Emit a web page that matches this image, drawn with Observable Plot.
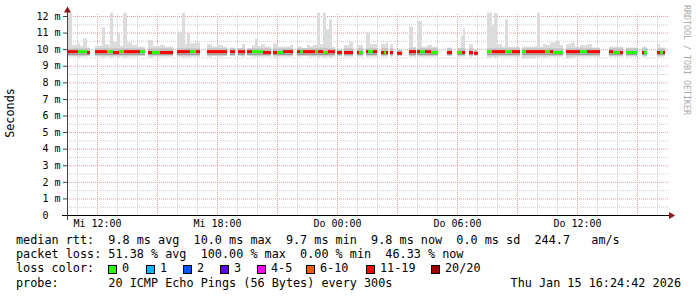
<!DOCTYPE html>
<html><head><meta charset="utf-8">
<script src="https://cdn.jsdelivr.net/npm/d3@7"></script>
<script src="https://cdn.jsdelivr.net/npm/@observablehq/plot@0.6"></script>
<style>
html,body{margin:0;padding:0;background:#fff;}
#wrap{position:relative;width:697px;height:297px;overflow:hidden;font-family:"DejaVu Sans Mono",monospace;background:#fff;}
#chart{position:absolute;left:0;top:0;}
.line{position:absolute;left:16px;font-size:11.8px;line-height:14px;white-space:pre;color:#000;}
.sq{position:absolute;width:7px;height:7px;border:1px solid #000;}
.lab{position:absolute;font-size:11.8px;line-height:14px;white-space:pre;color:#000;}
#ylab{position:absolute;left:11.2px;top:113px;transform:translate(-50%,-50%) rotate(-90deg);font-size:11.8px;line-height:1;white-space:nowrap;color:#000;}
#credit{position:absolute;left:687px;top:60px;transform:translate(-50%,-50%) rotate(90deg);font-size:8.3px;line-height:1;white-space:nowrap;color:#aaaaaa;}
</style></head>
<body><div id="wrap"><div id="chart"></div></div>
<script>
// ---- axis ticks (hours since Wed 00:00) ----
const xTickHours = [12, 18, 24, 30, 36];
const xTickLabels = ["Mi 12:00", "Mi 18:00", "Do 00:00", "Do 06:00", "Do 12:00"];
const yTickValues = [0,1,2,3,4,5,6,7,8,9,10,11,12];
const yTickLabels = ["0","1","2","3","4","5","6","7","8","9","10","11","12"];
const yUnit = "m";

// ---- loss colour legend ----
const lossLabels = ["0","1","2","3","4-5","6-10","11-19","20/20"];
const lossColors = ["#26ff00","#00b8ff","#0059ff","#5e00ff","#ff00ff","#ff5500","#ff0000","#a10000"];

// ---- median rtt runs: [from h, to h, median ms, lost pings of 20] ----
const medianRuns = [
 [10.5,11.05,9.85,15],[11.05,11.5,9.85,0],[11.5,11.65,9.8,15],
 [11.9,12.5,9.85,15],[12.5,12.8,9.85,0],[12.8,13.1,9.8,15],[13.1,13.35,9.85,0],[13.35,14.15,9.85,15],[14.15,14.4,9.85,0],
 [14.55,14.75,9.8,15],[14.75,15.15,9.8,0],[15.15,15.8,9.8,15],
 [16.0,16.65,9.85,15],[16.65,16.95,9.85,0],[16.95,17.15,9.85,15],
 [17.5,18.5,9.85,15],[18.65,18.9,9.85,15],[19.05,19.4,9.85,15],
 [19.5,19.75,9.85,15],[19.75,20.3,9.85,0],[20.3,20.7,9.8,15],
 [20.8,21.0,9.8,15],[21.0,21.3,9.8,0],[21.3,21.8,9.85,15],
 [22.0,22.15,9.85,15],[22.15,22.3,9.85,0],[22.3,22.9,9.85,15],[22.9,23.05,9.85,0],[23.05,23.3,9.85,15],[23.3,23.55,9.8,0],[23.55,23.9,9.85,15],
 [24.0,24.25,9.8,15],[24.35,24.8,9.8,15],
 [25.0,25.1,9.8,15],[25.1,25.3,9.8,0],
 [25.45,25.55,9.85,15],[25.55,25.8,9.85,0],[25.8,26.0,9.85,15],
 [26.2,26.35,9.8,15],[26.35,26.45,9.8,0],[26.45,26.55,9.8,15],
 [26.65,26.8,9.8,15],[27.0,27.25,9.75,15],[27.6,27.95,9.85,15],
 [28.0,28.15,9.85,15],[28.15,28.4,9.85,0],[28.4,28.7,9.85,15],[28.7,29.05,9.8,0],
 [29.5,29.75,9.8,15],[30.0,30.25,9.8,0],[30.25,30.4,9.8,15],
 [30.6,30.8,9.8,15],[30.85,31.05,9.75,15],
 [31.5,31.75,9.85,0],[31.75,32.4,9.85,15],[32.4,32.75,9.85,0],[32.75,33.15,9.85,15],
 [33.25,33.45,9.85,0],[33.45,34.4,9.85,15],[34.4,34.65,9.85,0],[34.65,34.8,9.85,15],[34.8,35.3,9.8,0],
 [35.45,36.15,9.85,15],[36.15,36.5,9.85,0],[36.5,37.15,9.85,15],
 [37.6,37.8,9.85,15],[37.8,38.15,9.8,0],[38.15,38.3,9.8,15],
 [38.45,39.0,9.8,0],[39.25,39.35,9.8,15],[39.35,39.5,9.8,0],
 [40.0,40.15,9.8,15],[40.15,40.3,9.8,0],[40.3,40.4,9.8,15]
];

// ---- smoke (ping spread): [from h, to h, lowest ms, highest ms] ----
const smoke = [
 [10.5,10.75,9.55,12.2],[10.75,11.0,9.55,10.25],[11.0,11.15,9.5,10.35],[11.15,11.3,9.55,10.2],[11.3,11.5,9.55,10.65],[11.5,11.65,9.6,10.1],
 [11.9,12.25,9.55,10.2],[12.25,12.4,9.5,11.3],[12.4,12.6,9.55,10.3],[12.6,12.65,9.55,10.2],[12.65,12.8,9.5,12.2],[12.8,13.0,9.55,10.45],[13.0,13.15,9.5,11.0],[13.15,13.3,9.55,10.2],[13.3,13.5,9.5,12.2],[13.5,13.75,9.55,10.4],[13.75,14.0,9.55,10.25],[14.0,14.4,9.6,10.15],
 [14.55,14.8,9.5,10.55],[14.8,15.15,9.55,10.2],[15.15,15.4,9.55,10.25],[15.4,15.8,9.55,10.15],
 [16.0,16.25,9.55,11.05],[16.25,16.4,9.5,12.2],[16.4,16.5,9.55,10.3],[16.5,16.65,9.5,11.0],[16.65,16.9,9.55,10.35],[16.9,17.15,9.55,10.4],
 [17.5,17.75,9.55,10.3],[17.75,18.0,9.6,10.15],[18.0,18.3,9.55,10.25],[18.3,18.5,9.6,10.15],
 [18.65,18.9,9.6,10.1],
 [19.05,19.25,9.6,10.05],[19.25,19.4,9.55,10.3],
 [19.5,19.75,9.6,10.05],[19.75,19.9,9.55,10.25],[19.9,20.05,9.55,10.65],[20.05,20.2,9.55,10.2],[20.2,20.4,9.55,10.3],[20.4,20.7,9.55,10.15],
 [20.8,21.05,9.5,10.35],[21.05,21.4,9.55,10.15],[21.4,21.65,9.55,10.15],[21.65,21.8,9.55,10.25],
 [22.0,22.25,9.55,10.15],[22.25,22.5,9.6,10.05],[22.5,22.65,9.55,10.25],[22.65,22.8,9.55,10.15],[22.8,23.0,9.55,10.25],[23.0,23.15,9.5,12.2],[23.15,23.3,9.55,10.3],[23.3,23.45,9.5,12.2],[23.45,23.6,9.55,11.2],[23.6,23.75,9.5,11.8],[23.75,23.9,9.55,10.15],
 [24.0,24.25,9.6,9.95],
 [24.35,24.6,9.55,10.25],[24.6,24.8,9.55,10.45],
 [25.0,25.3,9.55,10.25],
 [25.45,25.65,9.55,11.0],[25.65,26.0,9.55,10.3],
 [26.2,26.45,9.55,10.3],[26.45,26.55,9.55,10.4],
 [26.65,26.8,9.55,10.3],
 [27.0,27.25,9.6,9.95],
 [27.6,27.8,9.55,11.35],[27.8,27.95,9.55,10.15],
 [28.0,28.25,9.55,11.7],[28.25,28.5,9.55,10.15],[28.5,28.75,9.55,10.25],[28.75,29.05,9.55,10.15],
 [29.5,29.75,9.6,10.1],
 [30.0,30.2,9.55,10.1],[30.2,30.3,9.55,10.8],[30.3,30.4,9.55,11.25],
 [30.6,30.8,9.55,10.3],
 [30.85,31.05,9.6,9.95],
 [31.5,31.75,9.5,12.2],[31.75,31.85,9.55,11.45],[31.85,32.0,9.5,12.2],[32.0,32.25,9.55,10.3],[32.25,32.4,9.55,10.15],[32.4,32.55,9.55,11.8],[32.55,33.15,9.55,10.15],
 [33.25,33.9,9.45,10.15],[33.9,34.0,9.55,10.2],[34.0,34.15,9.5,12.2],[34.15,34.3,9.55,10.15],[34.3,34.5,9.5,10.3],[34.5,34.65,9.55,10.25],[34.65,34.9,9.55,10.4],[34.9,35.15,9.55,10.5],[35.15,35.3,9.55,10.25],
 [35.45,35.65,9.45,10.3],[35.65,35.9,9.5,10.4],[35.9,36.15,9.55,10.15],[36.15,36.5,9.55,10.25],[36.5,36.75,9.55,10.3],[36.75,37.15,9.55,10.1],
 [37.6,38.3,9.55,10.15],
 [38.45,39.0,9.55,10.1],
 [39.25,39.5,9.55,10.15],
 [40.0,40.15,9.5,10.3],[40.15,40.4,9.55,10.1]
];

// ---- legend texts ----
const legendRtt = "median rtt:  9.8 ms avg  10.0 ms max  9.7 ms min  9.8 ms now  0.0 ms sd  244.7   am/s";
const legendLoss = "packet loss: 51.38 % avg  100.00 % max  0.00 % min  46.33 % now";
const legendProbe = "probe:       20 ICMP Echo Pings (56 Bytes) every 300s";
const legendDate = "Thu Jan 15 16:24:42 2026";

function lossColor(n) {
  if (n === 0) return lossColors[0];
  if (n === 1) return lossColors[1];
  if (n === 2) return lossColors[2];
  if (n === 3) return lossColors[3];
  if (n <= 5) return lossColors[4];
  if (n <= 10) return lossColors[5];
  if (n <= 19) return lossColors[6];
  return lossColors[7];
}

const minorX = d3.range(11, 41).filter(h => h % 3 !== 0);
const majorX = d3.range(12, 41, 3);
const minorY = d3.range(0.5, 12, 1);
const majorY = yTickValues.filter(v => v > 0);
const gridGrey = "#cdcdcd", gridRed = "#eb9a9a", arrowCol = "#8c1414";

const chart = Plot.plot({
  width: 697, height: 232,
  marginLeft: 67, marginRight: 30, marginTop: 16, marginBottom: 17,
  x: {domain: [10.5, 40.5], range: [67, 667], axis: null},
  y: {domain: [0, 12], range: [215, 16], axis: null},
  color: {type: "identity"},
  style: {background: "white", fontFamily: "DejaVu Sans Mono", fontSize: "10px", overflow: "visible"},
  marks: [
    Plot.ruleY(minorY, {x1: 10.5, x2: 40.6, stroke: gridGrey, strokeDasharray: "1,1"}),
    Plot.ruleX(minorX, {y1: 0, y2: 12.15, stroke: gridGrey, strokeDasharray: "1,1"}),
    Plot.ruleY(majorY, {x1: 10.5, x2: 40.6, stroke: gridRed, strokeDasharray: "1,1"}),
    Plot.ruleX(majorX, {y1: 0, y2: 12.15, stroke: gridRed, strokeDasharray: "1,1"}),
    // smoke
    Plot.rect(smoke, {x1: d => d[0], x2: d => d[1], y1: d => d[2], y2: d => d[3], fill: "#dcdcdc"}),
    Plot.rect(smoke, {x1: d => d[0], x2: d => d[1], y1: d => Math.max(d[2], 9.62), y2: d => Math.min(d[3], 10.05), fill: "#c2c2c2"}),
    Plot.rect(smoke, {x1: d => d[0], x2: d => d[1], y1: 9.65, y2: 9.73, fill: "#9c9c9c"}),
    // median coloured by loss
    Plot.rect(medianRuns, {x1: d => d[0], x2: d => d[1], y1: d => d[2] - 0.09, y2: d => d[2] + 0.09, fill: d => lossColor(d[3])}),
    // axes
    Plot.ruleY([0], {x1: 10.25, x2: 40.6, stroke: "#000"}),
    Plot.ruleX([10.5], {y1: -0.3, y2: 12.3, stroke: "#444"}),
    Plot.ruleY(majorY, {x1: 10.3, x2: 10.5, stroke: "#444"}),
    Plot.dot([0], {x: 40.68, y: 0, symbol: "triangle", rotate: 90, r: 2.6, fill: arrowCol, stroke: null}),
    Plot.dot([0], {x: 10.5, y: 12.36, symbol: "triangle", r: 2.6, fill: arrowCol, stroke: null}),
    Plot.text(yTickValues, {x: 10.5, y: d => d, text: (d, i) => yTickLabels[i], dx: -19, textAnchor: "end", fill: "#000"}),
    Plot.text(majorY, {x: 10.5, y: d => d, text: () => yUnit, dx: -13, textAnchor: "start", fill: "#000"}),
    Plot.text(xTickHours, {x: d => d, y: 0, text: (d, i) => xTickLabels[i], dy: 8.5, fill: "#000"})
  ]
});
document.getElementById("chart").appendChild(chart);

const wrap = document.getElementById("wrap");
function addDiv(cls, txt, style) {
  const el = document.createElement("div");
  if (cls) el.className = cls;
  if (txt != null) el.textContent = txt;
  Object.assign(el.style, style || {});
  wrap.appendChild(el);
  return el;
}
addDiv(null, "Seconds").id = "ylab";
addDiv(null, "RRDTOOL / TOBI OETIKER").id = "credit";
addDiv("line", legendRtt, {top: "233px"});
addDiv("line", legendLoss, {top: "247px"});
addDiv("line", "loss color:", {top: "261px"});
addDiv("line", legendProbe, {top: "275.5px"});
addDiv("line", legendDate, {top: "275.5px", left: "auto", right: "16px"});
const sqX = [108, 146, 183, 220, 257, 306, 366, 431];
lossLabels.forEach((lab, i) => {
  addDiv("sq", null, {left: sqX[i] + "px", top: "264.5px", background: lossColors[i]});
  addDiv("lab", lab, {left: (sqX[i] + 14) + "px", top: "261px"});
});
</script></body></html>
